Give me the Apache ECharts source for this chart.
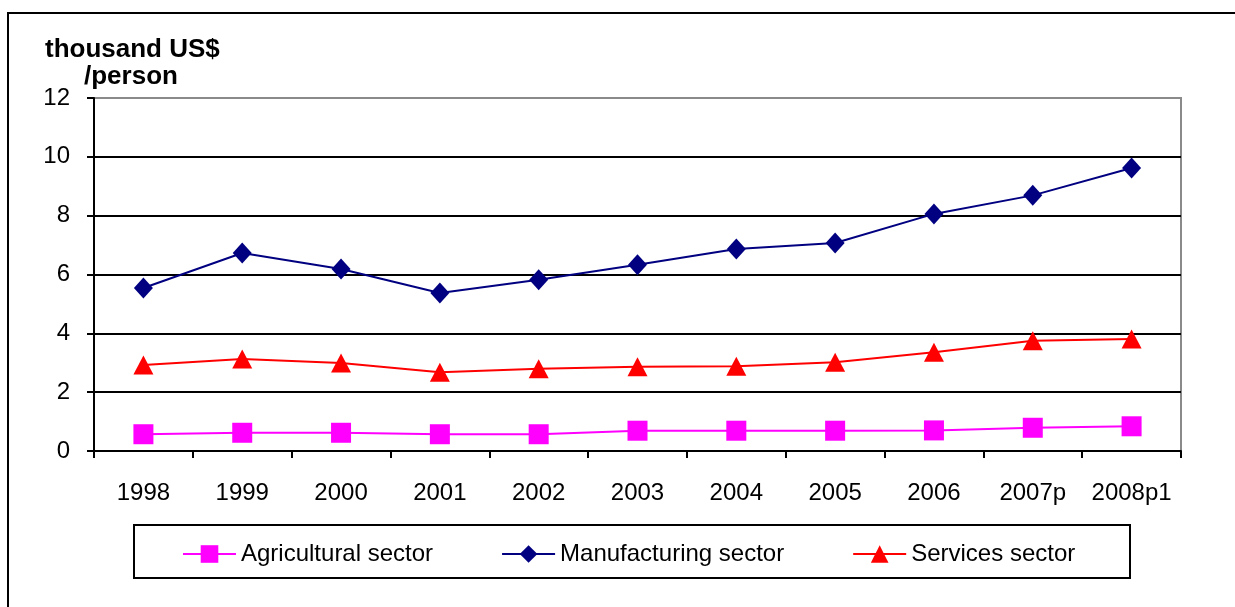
<!DOCTYPE html>
<html>
<head>
<meta charset="utf-8">
<script src="https://cdn.jsdelivr.net/npm/echarts@6/dist/echarts.min.js"></script>
<style>
html,body{margin:0;padding:0;background:#fff;}
#chart{width:1235px;height:607px;}
</style>
</head>
<body>
<div id="chart"></div>
<script>
const categories = ['1998','1999','2000','2001','2002','2003','2004','2005','2006','2007p','2008p1'];
const agricultural = [0.57,0.62,0.62,0.57,0.57,0.69,0.69,0.69,0.70,0.79,0.84];
const manufacturing = [5.54,6.73,6.19,5.37,5.82,6.33,6.87,7.07,8.06,8.69,9.62];
const services = [2.92,3.13,2.99,2.68,2.80,2.86,2.88,3.02,3.36,3.75,3.81];
const yTicks = [0,2,4,6,8,10,12];
const seriesNames = ['Agricultural sector','Manufacturing sector','Services sector'];
const titleLines = ['thousand US$','/person'];

const FONT = '"Liberation Sans", Arial, sans-serif';
const chart = echarts.init(document.getElementById('chart'));
chart.setOption({
  animation: false,
  backgroundColor: '#fff',
  textStyle: {fontFamily: FONT},
  grid: {left: 94, top: 98, width: 1087, height: 353, show: true, borderColor: '#8a8a8a', borderWidth: 2, backgroundColor: 'transparent'},
  graphic: [
    {type: 'rect', shape: {x: 8, y: 13, width: 1240, height: 700}, style: {fill: 'none', stroke: '#000', lineWidth: 2}, z: -1},
    {type: 'rect', shape: {x: 134, y: 525, width: 996, height: 53}, style: {fill: 'none', stroke: '#000', lineWidth: 2}, z: -1},
    {type: 'text', left: 45, top: 37, style: {text: titleLines[0], font: 'bold 26px ' + FONT, fill: '#000'}},
    {type: 'text', left: 84, top: 64, style: {text: titleLines[1], font: 'bold 26px ' + FONT, fill: '#000'}}
  ],
  legend: {
    left: 177, top: 537,
    itemWidth: 53, itemHeight: 22, itemGap: 68,
    textStyle: {fontSize: 24, color: '#000', fontFamily: FONT},
    data: seriesNames
  },
  xAxis: {
    type: 'category',
    data: categories,
    boundaryGap: true,
    axisLine: {lineStyle: {color: '#000', width: 2}},
    axisTick: {show: true, length: 7, lineStyle: {color: '#000', width: 2}},
    axisLabel: {color: '#000', fontSize: 24, margin: 30, fontFamily: FONT, interval: 0},
    splitLine: {show: false}
  },
  yAxis: {
    type: 'value',
    min: yTicks[0], max: yTicks[yTicks.length-1], interval: 2,
    axisLine: {show: true, lineStyle: {color: '#000', width: 2}},
    axisTick: {show: true, length: 7, lineStyle: {color: '#000', width: 2}},
    axisLabel: {color: '#000', fontSize: 24, margin: 24, fontFamily: FONT, padding: [5,0,0,0]},
    splitLine: {show: true, lineStyle: {color: ['#000','#000','#000','#000','#000','#000','#8a8a8a'], width: 2}}
  },
  series: [
    {name: seriesNames[0], type: 'line', data: agricultural, symbol: 'rect', symbolSize: 20,
     itemStyle: {color: '#ff00ff'}, lineStyle: {color: '#ff00ff', width: 2}, z: 3},
    {name: seriesNames[1], type: 'line', data: manufacturing, symbol: 'diamond', symbolSize: [19, 21],
     itemStyle: {color: '#000080'}, lineStyle: {color: '#000080', width: 2}, z: 4},
    {name: seriesNames[2], type: 'line', data: services, symbol: 'triangle', symbolSize: [20, 19],
     itemStyle: {color: '#ff0000'}, lineStyle: {color: '#ff0000', width: 2}, z: 3}
  ]
});
</script>
</body>
</html>
